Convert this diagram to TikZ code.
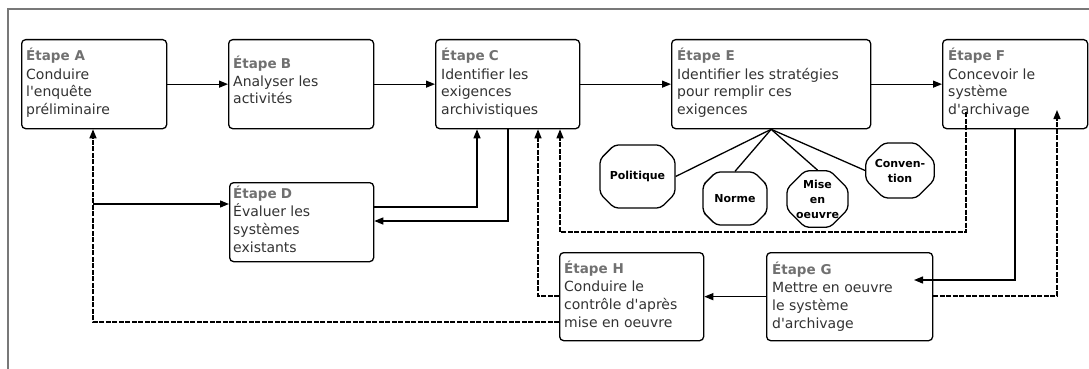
\documentclass[tikz,border=0pt]{standalone}
\usepackage{fontspec}
\setmainfont{DejaVu Sans}
% family without TeX ligatures, so that ' stays a straight apostrophe
\newfontfamily\stepfont{DejaVu Sans}
\usetikzlibrary{arrows.meta,shapes.misc}
\definecolor{titlegray}{RGB}{112,112,112}
\definecolor{bodygray}{RGB}{50,50,50}
\definecolor{framegray}{RGB}{120,120,120}
% step text: grey bold title, then the description lines
\newcommand\steptext[2]{\parbox[t]{195pt}{\raggedright\leavevmode
  {\fontsize{13.5}{18}\selectfont\textbf{\textcolor{titlegray}{#1}}}\\#2}}
\newcommand\gap{\hspace{0.3em}}

\begin{document}
\begin{tikzpicture}[x=1pt,y=-1pt,
  stepbox/.style={draw, line width=1.3pt, rounded corners=4pt, anchor=north west,
    inner sep=0pt, minimum width=145pt, minimum height=89pt},
  steptxt/.style={anchor=base west, inner sep=0pt, text=bodygray,
    font=\stepfont\fontsize{14}{18}\selectfont},
  strat/.style={draw, line width=1.3pt, chamfered rectangle,
    chamfered rectangle xsep=9pt, chamfered rectangle ysep=9pt,
    rounded corners=4pt, inner sep=0pt, align=center,
    font=\fontsize{11}{15}\selectfont\bfseries},
  link/.style={line width=1.3pt},
  arr/.style={-{Triangle[length=9pt,width=7pt]}},
  dsh/.style={dash pattern=on 5pt off 1.5pt}]

\useasboundingbox (0,0) rectangle (1089,369);

% outer frame (top and left edges)
\draw[framegray, line width=1.5pt] (8,369) -- (8,9) -- (1089,9);

% step boxes
\node[stepbox] (A) at (21,39) {};
\node[stepbox] (B) at (228,39) {};
\node[stepbox, minimum width=144pt] (C) at (435,39) {};
\node[stepbox, minimum width=199pt] (E) at (671,39) {};
\node[stepbox] (F) at (942,39) {};
\node[stepbox, minimum width=144pt, minimum height=79pt] (D) at (229,182) {};
\node[stepbox, minimum width=144pt, minimum height=88pt] (H) at (559,252) {};
\node[stepbox, minimum width=166pt, minimum height=88pt] (G) at (766,252) {};

% step texts
\node[steptxt] (At) at ([shift={(5,22)}]A.north west)
  {\steptext{Étape A}{Conduire\\l'enquête\\préliminaire}};
\node[steptxt] (Bt) at ([shift={(5,29)}]B.north west)
  {\steptext{Étape\gap B}{Analyser les\\activités}};
\node[steptxt] (Ct) at ([shift={(6,22)}]C.north west)
  {\steptext{Étape\gap C}{Identifier les\\exigences\\archivistiques}};
\node[steptxt] (Et) at ([shift={(6,22)}]E.north west)
  {\steptext{Étape E}{Identifier les stratégies\\pour remplir ces\\exigences}};
\node[steptxt] (Ft) at ([shift={(6,22)}]F.north west)
  {\steptext{Étape\gap F}{Concevoir le\\système\\d'archivage}};
\node[steptxt] (Dt) at ([shift={(4,16)}]D.north west)
  {\steptext{Étape\gap D}{Évaluer les\\systèmes\\existants}};
\node[steptxt] (Ht) at ([shift={(5,21)}]H.north west)
  {\steptext{Étape H}{Conduire le\\contrôle d'après\\mise en oeuvre}};
\node[steptxt] (Gt) at ([shift={(6,22)}]G.north west)
  {\steptext{Étape G}{Mettre en oeuvre\\le système\\d'archivage}};

% strategies
\node[strat, minimum width=75pt, minimum height=63pt] (pol) at (637.5,176.5) {Politique};
\node[strat, minimum width=64pt, minimum height=53pt] (nor) at (735,198.5) {Norme};
\node[strat, minimum width=61pt, minimum height=52pt] (mis) at (817.5,199) {Mise\\en\\oeuvre};
\node[strat, minimum width=64pt, minimum height=55pt] (con) at (900,170.5) {Conven-\\tion};

\draw[link] (E.south) -- (pol.east);
\draw[link] (E.south) -- (nor.north);
\draw[link] (E.south) -- (mis.north);
\draw[link] (E.south) -- (con.west);

% main sequence
\draw[link, arr] (A.east) -- (B.west);
\draw[link, arr] (B.east) -- (C.west);
\draw[link, arr] (C.east) -- (E.west);
\draw[link, arr] (E.east) -- (F.west);

% bend points
\coordinate (hA) at (93,322);
\coordinate (dA) at (93,204);
\coordinate (dc) at (477,207);
\coordinate (cd) at (508,221);
\coordinate (hc) at (538,296);
\coordinate (fc1) at (966,112);
\coordinate (fc2) at (966,232);
\coordinate (fc3) at (560,232);
\coordinate (fg) at (1015,280);
\coordinate (gin) at (914,280);
\coordinate (gf) at (1057,296);
\coordinate (fin) at (1057,110);

% A <-> D and C <-> D
\draw[link, dsh, arr] (H.west |- hA) -- (hA) -- (A.south -| hA);
\draw[link, arr] (dA) -- (D.west |- dA);
\draw[link, arr] (D.east |- dc) -- (dc) -- (C.south -| dc);
\draw[link, arr] (C.south -| cd) -- (cd) -- (D.east |- cd);

% feedback loops
\draw[link, dsh, arr] (H.west |- hc) -- (hc) -- (C.south -| hc);
\draw[link, dsh, arr] (fc1) -- (fc2) -- (fc3) -- (C.south -| fc3);
\draw[link, arr] (F.south -| fg) -- (fg) -- (gin);
\draw[link, dsh, arr] (G.east |- gf) -- (gf) -- (fin);
\draw[link, arr] (G.west) -- (H.east);
\end{tikzpicture}
\end{document}
